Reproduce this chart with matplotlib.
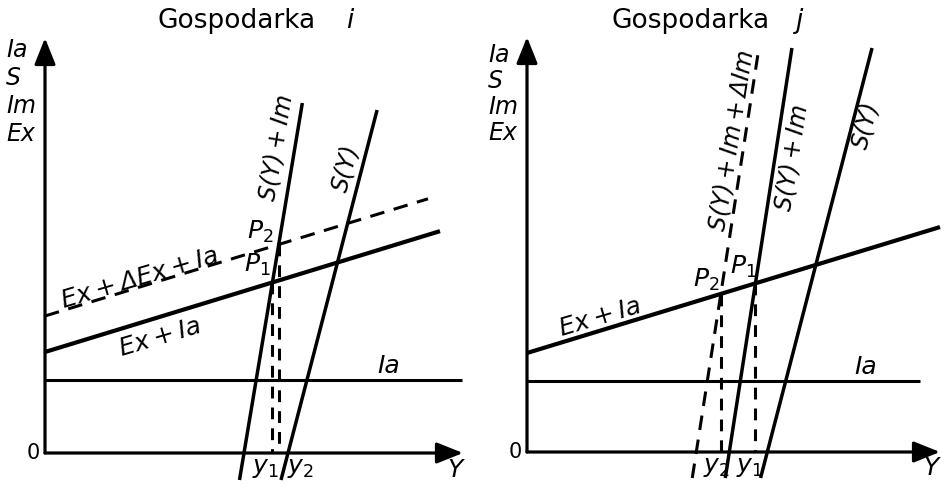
import matplotlib
matplotlib.use("Agg")
import matplotlib.pyplot as plt
from matplotlib.patches import ArrowStyle

plt.rcParams['font.family'] = ['DejaVu Sans']
plt.rcParams['mathtext.fontset'] = 'custom'
plt.rcParams['mathtext.it'] = 'DejaVu Sans:italic'
plt.rcParams['mathtext.rm'] = 'DejaVu Sans'
plt.rcParams['mathtext.default'] = 'it'
plt.rcParams['lines.scale_dashes'] = False
plt.rcParams['lines.solid_capstyle'] = 'butt'

# ---------------- data (schematic units) ----------------
titles = ["Gospodarka", "Gospodarka"]
title_idx = ["i", "j"]
axis_labels = ["Ia", "S", "Im", "Ex"]

# Economy i
i_Ia = 73                      # autonomous investment level
i_ExIa = (101, 0.306)          # Ex + Ia : intercept, slope
i_ExdExIa = (137, 0.306)       # Ex + dEx + Ia : intercept, slope
i_SIm = (199, 6.0)             # S(Y)+Im : zero point on Y, slope
i_S = (243, 3.85)              # S(Y) : zero point on Y, slope
i_S_range = [(-27, 350), (-27, 343)]   # vertical extent of S(Y)+Im, S(Y)
i_flat_end = [417, 395, 383]           # Y-extent of Ia, Ex+Ia, Ex+dEx+Ia

# Economy j
j_Ia = 71
j_ExIa = (99, 0.305)
j_SIm = (202.3, 6.45)
j_SImdIm = (169.3, 6.45)
j_S = (240.3, 3.857)
j_S_range = [(-26, 404), (-26, 404), (-26, 402)]  # S+Im, S, S+Im+dIm
j_flat_end = [393, 413]

LW_AX = 2.3
LW_THICK = 3.0
LW_S = 2.5
LW_IA = 2.2
DASH = (0, (10.5, 7.0))
DASH_V = (0, (8.5, 6.5))


def sline(ax, p, yr, **kw):
    y0, y1 = yr
    Y0, k = p
    ax.plot([Y0 + y0 / k, Y0 + y1 / k], [y0, y1], color='black', **kw)


def fline(ax, p, xend, **kw):
    a, k = p
    ax.plot([0, xend], [a, a + k * xend], color='black', **kw)


def cross(flat, steep):
    a, k = flat
    Y0, m = steep
    x = (Y0 + a / m) / (1 - k / m)
    return x, a + k * x


def axes_arrows(ax, xtip, ytip):
    st = ArrowStyle('-|>', head_length=0.8, head_width=0.32)
    ax.annotate('', xy=(xtip, 0), xytext=(0, 0),
                arrowprops=dict(arrowstyle=st, mutation_scale=20, lw=LW_AX,
                                color='black', shrinkA=0, shrinkB=0))
    ax.annotate('', xy=(0, ytip), xytext=(0, 0),
                arrowprops=dict(arrowstyle=st, mutation_scale=20, lw=LW_AX,
                                color='black', shrinkA=0, shrinkB=0))


fig = plt.figure(figsize=(9.45, 4.86), dpi=100)
axL = fig.add_axes([0, 0, 472 / 945, 1])
axR = fig.add_axes([472 / 945, 0, 473 / 945, 1])
axL.set_xlim(-45, 427); axL.set_ylim(-33, 453)
axR.set_xlim(-55, 418); axR.set_ylim(-34, 452)
for ax in (axL, axR):
    ax.axis('off')

FS = 18
FSR = 17
IT = dict(fontsize=FS, fontstyle='italic', color='black')
ITR = dict(fontsize=FSR, fontstyle='italic', color='black')
AX_IT = dict(fontsize=17, fontstyle='italic', color='black')

# ---------------- left panel ----------------
ax = axL
axes_arrows(ax, 418, 415)
ax.plot([0, i_flat_end[0]], [i_Ia, i_Ia], color='black', lw=LW_IA)
fline(ax, i_ExIa, i_flat_end[1], lw=LW_THICK)
fline(ax, i_ExdExIa, i_flat_end[2], lw=LW_IA, linestyle=DASH)
sline(ax, i_SIm, i_S_range[0], lw=LW_S)
sline(ax, i_S, i_S_range[1], lw=LW_S)
p1 = cross(i_ExIa, i_SIm)
p2 = cross(i_ExdExIa, i_SIm)
for p in (p1, p2):
    ax.plot([p[0], p[0]], [p[1], 0], color='black', lw=LW_IA, linestyle=DASH_V)

ax.text(191.5, 425, titles[0], fontsize=19, ha='center', va='baseline')
ax.text(305, 425, title_idx[0], fontsize=19, fontstyle='italic', ha='center', va='baseline')
for lab, yb in zip(axis_labels, [396, 368, 340, 312]):
    ax.text(-39, yb, lab, ha='left', va='baseline', **AX_IT)
ax.text(-12, 0, "0", fontsize=15, ha='center', va='center')
ax.text(410, -17, "Y", ha='center', va='center', **IT)
ax.text(220, -15, "$y_1$", fontsize=FS, ha='center', va='center')
ax.text(255, -15, "$y_2$", fontsize=FS, ha='center', va='center')
ax.text(215, 221, "$P_2$", fontsize=FS, ha='center', va='center')
ax.text(212, 188, "$P_1$", fontsize=FS, ha='center', va='center')
ax.text(344, 87, "Ia", ha='center', va='center', **IT)
ax.text(115, 116, "Ex\u2009+\u2009Ia", rotation=16.5, rotation_mode='anchor',
        ha='center', va='center', **IT)
ax.text(95, 175, "Ex\u2009+\u2009\u0394Ex\u2009+\u2009Ia", rotation=16.5,
        rotation_mode='anchor', ha='center', va='center', **IT)
ax.text(231, 306, "S(Y)\u2009+\u2009Im", rotation=80.5, rotation_mode='anchor',
        ha='center', va='center', **ITR)
ax.text(301, 285, "S(Y)", rotation=75.4, rotation_mode='anchor',
        ha='center', va='center', **ITR)

# ---------------- right panel ----------------
ax = axR
axes_arrows(ax, 413, 415)
ax.plot([0, j_flat_end[0]], [j_Ia, j_Ia], color='black', lw=LW_IA)
fline(ax, j_ExIa, j_flat_end[1], lw=LW_THICK)
sline(ax, j_SIm, j_S_range[0], lw=LW_S)
sline(ax, j_S, j_S_range[1], lw=LW_S)
sline(ax, j_SImdIm, j_S_range[2], lw=LW_IA, linestyle=DASH)
q1 = cross(j_ExIa, j_SIm)
q2 = cross(j_ExIa, j_SImdIm)
for q in (q1, q2):
    ax.plot([q[0], q[0]], [q[1], 0], color='black', lw=LW_IA, linestyle=DASH_V)

ax.text(163.5, 424, titles[1], fontsize=19, ha='center', va='baseline')
ax.text(273, 424, title_idx[1], fontsize=19, fontstyle='italic', ha='center', va='baseline')
for lab, yb in zip(axis_labels, [390, 364, 338, 312]):
    ax.text(-39, yb, lab, ha='left', va='baseline', **AX_IT)
ax.text(-12, 0, "0", fontsize=15, ha='center', va='center')
ax.text(404, -16, "Y", ha='center', va='center', **IT)
ax.text(189, -15, "$y_2$", fontsize=FS, ha='center', va='center')
ax.text(222, -15, "$y_1$", fontsize=FS, ha='center', va='center')
ax.text(179, 172, "$P_2$", fontsize=FS, ha='center', va='center')
ax.text(216, 185, "$P_1$", fontsize=FS, ha='center', va='center')
ax.text(339, 85, "Ia", ha='center', va='center', **IT)
ax.text(73, 135, "Ex\u2009+\u2009Ia", rotation=16.5, rotation_mode='anchor',
        ha='center', va='center', **IT)
ax.text(205, 312, "S(Y)\u2009+\u2009Im\u2009+\u2009\u0394Im", rotation=81,
        rotation_mode='anchor', ha='center', va='center', **ITR)
ax.text(265, 295, "S(Y)\u2009+\u2009Im", rotation=81, rotation_mode='anchor',
        ha='center', va='center', **ITR)
ax.text(339, 327, "S(Y)", rotation=75.5, rotation_mode='anchor',
        ha='center', va='center', **ITR)

fig.savefig("out.png", dpi=100, facecolor='white')
